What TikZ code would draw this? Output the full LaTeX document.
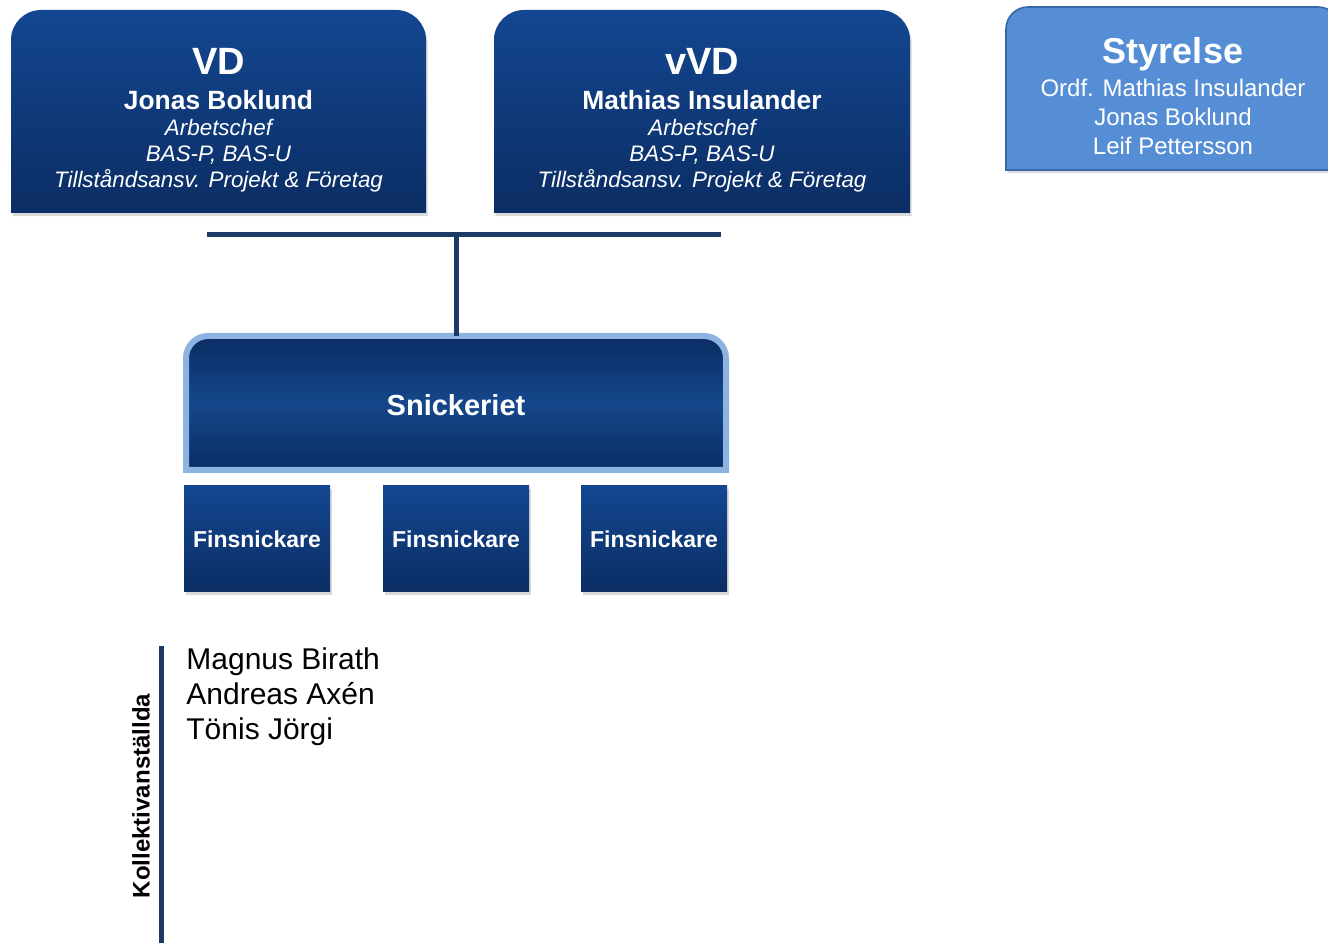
\documentclass[tikz,border=0pt]{standalone}
\usepackage{fontspec}
\setmainfont{Liberation Sans}
\usetikzlibrary{shadows,backgrounds}

\definecolor{navytop}{HTML}{134791}
\definecolor{navybot}{HTML}{0B2D63}
\definecolor{navymid}{HTML}{14478B}
\definecolor{skyfill}{HTML}{558ED5}
\definecolor{skyline}{HTML}{3767A6}
\definecolor{paleedge}{HTML}{8DB3E2}
\definecolor{linkblue}{HTML}{1B3A66}

% box with rounded top corners, drawn round a frame node
\newcommand{\topround}[3]{%
  \path[#1] (#2.south west) -- ([yshift=-#3]#2.north west)
    arc[start angle=180,end angle=90,radius=#3]
    -- ([xshift=-#3]#2.north east)
    arc[start angle=90,end angle=0,radius=#3]
    -- (#2.south east) -- cycle;}

\tikzset{
  frame/.style={inner sep=0pt, outer sep=0pt},
  boxtext/.style={text=white, align=center, inner sep=0pt},
  softshadow/.style={drop shadow={opacity=0.3,shadow xshift=0.8pt,shadow yshift=-1.6pt}},
  darkbox/.style={top color=navytop, bottom color=navybot, softshadow},
  midbox/.style={top color=navybot, bottom color=navybot, middle color=navymid,
    draw=paleedge, line width=3pt, softshadow},
  lightbox/.style={fill=skyfill, draw=skyline, line width=0.8pt, softshadow},
  link/.style={draw=linkblue, line width=2.5pt},
}

\begin{document}
\begin{tikzpicture}[x=0.5pt,y=0.5pt]
\useasboundingbox (0,0) rectangle (1328,943);

% frames
\node[frame, minimum width=207.5pt, minimum height=101.5pt] (vd) at (218.5,831.5) {};
\node[frame, minimum width=208pt, minimum height=101.5pt] (vvd) at (702,831.5) {};
\node[frame, minimum width=167pt, minimum height=81.5pt] (styr) at (1173,854.5) {};
\node[frame, minimum width=270pt, minimum height=67pt] (snick) at (456,540) {};
\node[frame, minimum width=73pt, minimum height=53pt] (fin1) at (257,404) {};
\node[frame, minimum width=73pt, minimum height=53pt] (fin2) at (456,404) {};
\node[frame, minimum width=73pt, minimum height=53pt] (fin3) at (654,404) {};

\begin{pgfonlayer}{background}
\topround{darkbox}{vd}{15pt}
\topround{darkbox}{vvd}{15pt}
\topround{lightbox}{styr}{11pt}
\topround{midbox}{snick}{11pt}
\path[darkbox] (fin1.south west) rectangle (fin1.north east);
\path[darkbox] (fin2.south west) rectangle (fin2.north east);
\path[darkbox] (fin3.south west) rectangle (fin3.north east);
\end{pgfonlayer}

% texts
\node[boxtext, anchor=north, font=\fontsize{11.2}{13}\selectfont] (vdtxt) at (218.5,895)
  {{\fontsize{19}{19}\selectfont\bfseries VD}\\[4.5pt]
   {\fontsize{13.2}{13}\selectfont\bfseries Jonas Boklund}\\
   {\itshape Arbetschef}\\
   {\itshape BAS-P, BAS-U}\\
   {\itshape Tillståndsansv. Projekt \& Företag}};
\node[boxtext, anchor=north, font=\fontsize{11.2}{13}\selectfont] (vvdtxt) at (702,895)
  {{\fontsize{19}{19}\selectfont\bfseries vVD}\\[4.5pt]
   {\fontsize{13.2}{13}\selectfont\bfseries Mathias Insulander}\\
   {\itshape Arbetschef}\\
   {\itshape BAS-P, BAS-U}\\
   {\itshape Tillståndsansv. Projekt \& Företag}};
\node[boxtext, anchor=north, font=\fontsize{12}{14.5}\selectfont] (styrtxt) at (1173,906)
  {{\fontsize{18}{17.5}\selectfont\bfseries Styrelse}\\[2pt]
   Ordf. Mathias Insulander\\ Jonas Boklund\\ Leif Pettersson};
\node[boxtext, font=\fontsize{14.5}{16}\selectfont\bfseries] (snicktxt) at (456,538) {Snickeriet};
\node[boxtext, font=\fontsize{11.5}{13}\selectfont\bfseries] at (fin1) {Finsnickare};
\node[boxtext, font=\fontsize{11.5}{13}\selectfont\bfseries] at (fin2) {Finsnickare};
\node[boxtext, font=\fontsize{11.5}{13}\selectfont\bfseries] at (fin3) {Finsnickare};

% connectors
\coordinate (busl) at (207,708);
\coordinate (busr) at (721,708);
\coordinate (busmid) at (456,708);
\path[link] (busl) -- (busr);
\path[link] (busmid) -- (snick.north);

% collective staff
\coordinate (bartop) at (161,297);
\coordinate (barbot) at (161,0);
\path[link] (bartop) -- (barbot);
\node[rotate=90, inner sep=0pt, font=\fontsize{12}{13}\selectfont\bfseries] (koll) at (141,147) {Kollektivanställda};
\node[anchor=north west, align=left, inner sep=0pt, font=\fontsize{15}{17.5}\selectfont] (names) at (186,296)
  {Magnus Birath\\ Andreas Axén\\ Tönis Jörgi};
\end{tikzpicture}
\end{document}
